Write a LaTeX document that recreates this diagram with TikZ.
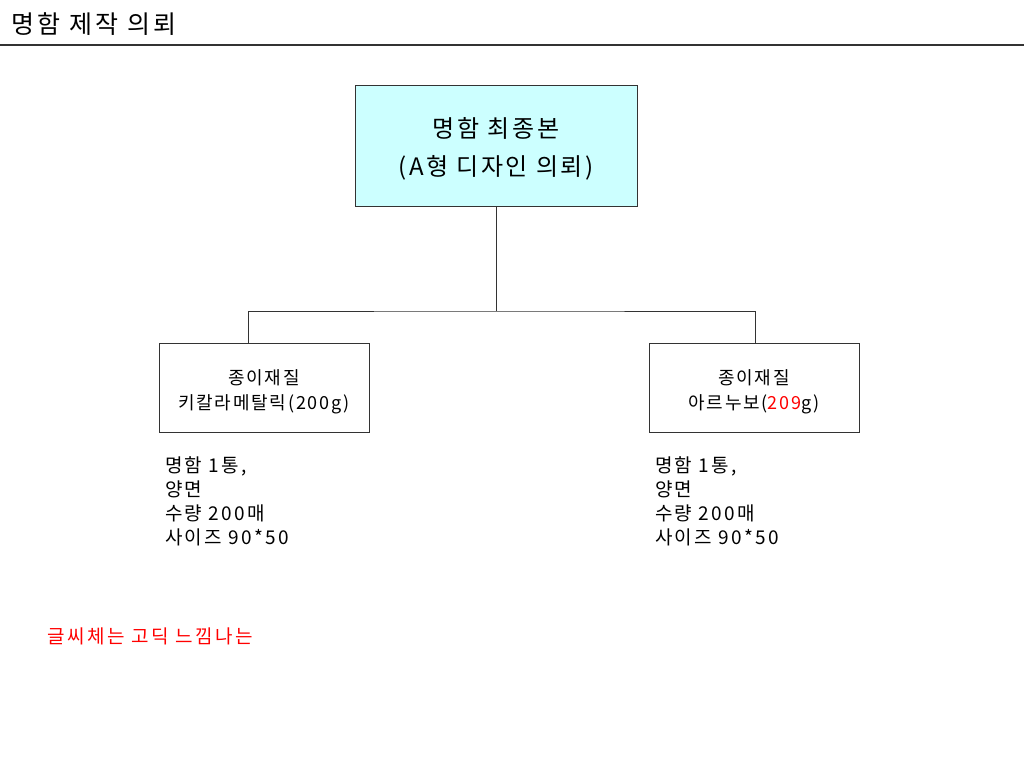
\documentclass[tikz,border=0pt]{standalone}
\usepackage{fontspec}
\setmainfont{Noto Sans CJK KR}
\definecolor{boxfill}{HTML}{CCFFFF}
\definecolor{linegray}{HTML}{333333}
\definecolor{redtext}{HTML}{FF0000}
\tikzset{
  mainbox/.style={draw=linegray, line width=1pt, fill=boxfill, minimum width=282pt, minimum height=121pt, anchor=north west, inner sep=0pt},
  subbox/.style={draw=linegray, line width=1pt, fill=white, minimum width=210pt, minimum height=89pt, anchor=north west, inner sep=0pt},
  maintext/.style={inner sep=0pt, align=center, font=\fontsize{24}{38}\selectfont\addfontfeatures{LetterSpace=11}},
  subtext/.style={inner sep=0pt, align=center, font=\fontsize{18}{25}\selectfont\addfontfeatures{LetterSpace=10}},
  infotext/.style={anchor=north west, inner sep=0pt, align=left, font=\fontsize{19}{24}\selectfont\addfontfeatures{LetterSpace=12}},
  conn/.style={draw=linegray, line width=1pt}
}
\begin{document}
\begin{tikzpicture}[x=1pt,y=-1pt]
\useasboundingbox (0,0) rectangle (1024,768);
\node[anchor=west, inner sep=0pt, font=\fontsize{25}{30}\selectfont\addfontfeatures{LetterSpace=13}] (title) at (11,24) {명함 제작 의뢰};
\coordinate (ruleL) at (0,45);
\coordinate (ruleR) at (1024,45);
\draw[draw=linegray, line width=1.5pt] (ruleL) -- (ruleR);

\node[mainbox] (top) at (355,85) {};
\node[maintext] (toptext) at (496,149) {명함 최종본\\(A형 디자인 의뢰)};
\node[subbox] (left) at (159,343) {};
\node[subtext] (lefttext) at (264,392) {종이재질\\키칼라메탈릭(200g)};
\node[subbox] (right) at (649,343) {};
\node[subtext] (righttext) at (754,392) {종이재질\\아르누보(\textcolor{redtext}{209}g)};

\coordinate (junction) at (top.south |- 0,311);
\coordinate (leftdrop) at (248,343);
\coordinate (rightdrop) at (755,343);
\draw[conn] (top.south) -- (junction);
\draw[conn] (leftdrop) |- (junction) -| (rightdrop);

\node[infotext] (linfo) at (165,456) {명함 1통,\\양면\\수량 200매\\사이즈 90*50};
\node[infotext] (rinfo) at (655,456) {명함 1통,\\양면\\수량 200매\\사이즈 90*50};

\node[anchor=west, inner sep=0pt, text=redtext, font=\fontsize{19}{20}\selectfont\addfontfeatures{LetterSpace=13}] (note) at (47,636) {글씨체는 고딕 느낌나는};
\end{tikzpicture}
\end{document}
